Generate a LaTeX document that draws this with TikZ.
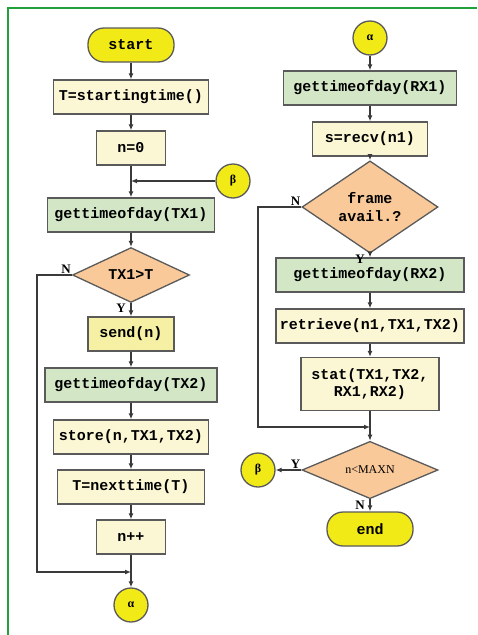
\documentclass[tikz,border=0pt]{standalone}
\usepackage{fontspec}
\setmainfont{Liberation Serif}
\setmonofont{Liberation Mono}
\usetikzlibrary{shapes.geometric,arrows.meta}
\definecolor{frameg}{HTML}{22A03C}
\definecolor{termfill}{HTML}{F2EA17}
\definecolor{creamfill}{HTML}{FBF7D4}
\definecolor{sendfill}{HTML}{F5F0A4}
\definecolor{greenfill}{HTML}{D3E7C7}
\definecolor{orangefill}{HTML}{F9C99A}
\definecolor{boxline}{HTML}{5A5A5A}
\definecolor{flowline}{HTML}{3A3A3A}
\begin{document}
\begin{tikzpicture}[x=1pt,y=-1pt]
        \tikzstyle{box}=[rectangle,draw=boxline,line width=1.3pt,minimum height=34pt,inner sep=3pt,align=center,font=\ttfamily\bfseries\fontsize{15}{18}\selectfont]
        \tikzstyle{plain box}=[box,fill=creamfill]
        \tikzstyle{time box}=[box,fill=greenfill]
        \tikzstyle{terminal}=[box,fill=termfill,rounded corners=16pt,minimum width=86pt]
        \tikzstyle{decision}=[diamond,draw=boxline,line width=1.3pt,fill=orangefill,inner sep=0pt,align=center,font=\ttfamily\bfseries\fontsize{15}{18}\selectfont]
        \tikzstyle{connector}=[circle,draw=boxline,line width=1.3pt,fill=termfill,minimum size=34pt,inner sep=0pt,font=\bfseries\fontsize{12}{14}\selectfont]
        \tikzstyle{yn}=[inner sep=1pt,font=\bfseries\fontsize{13}{15}\selectfont]
        \tikzstyle{flow}=[draw=flowline,line width=1.2pt,-{Latex[length=6pt,width=5pt]}]

        \useasboundingbox (0,0) rectangle (477,635);
        \draw[frameg,line width=2pt] (477,8) -- (8,8) -- (8,635);

        % Transmitter side
        \node[terminal](start) at (131,45) {start};
        \node[plain box,minimum width=155pt](tinit) at (131,97) {T=startingtime()};
        \node[plain box,minimum width=69pt](nzero) at (131,148) {n=0};
        \node[connector](betaL) at (233,181) {β};
        \node[time box,minimum width=167pt](gettx1) at (131,215) {gettimeofday(TX1)};
        \node[decision,minimum width=117pt,minimum height=50pt](tx1gt) at (131,275) {TX1>T};
        \node[box,fill=sendfill,minimum width=86pt](sendn) at (131,334) {send(n)};
        \node[time box,minimum width=172pt](gettx2) at (131,385) {gettimeofday(TX2)};
        \node[plain box,minimum width=155pt](store) at (131,437) {store(n,TX1,TX2)};
        \node[plain box,minimum width=147pt](nexttime) at (131,487) {T=nexttime(T)};
        \node[plain box,minimum width=69pt](ninc) at (131,537) {n++};
        \node[connector](alphaL) at (131,605) {α};

        % Receiver side
        \node[connector](alphaR) at (370,38) {α};
        \node[time box,minimum width=173pt](getrx1) at (370,88) {gettimeofday(RX1)};
        \node[plain box,minimum width=115pt](recv) at (370,139) {s=recv(n1)};
        \node[decision,minimum width=136pt,minimum height=67pt](frame) at (370,207) {frame\\avail.?};
        \node[time box,minimum width=188pt](getrx2) at (370,275) {gettimeofday(RX2)};
        \node[plain box,minimum width=188pt](retrieve) at (370,326) {retrieve(n1,TX1,TX2)};
        \node[plain box,minimum width=138pt,minimum height=53pt,font=\ttfamily\bfseries\fontsize{15}{17}\selectfont](stat) at (370,384) {stat(TX1,TX2,\\RX1,RX2)};
        \node[decision,minimum width=136pt,minimum height=50pt,font=\fontsize{12}{14}\selectfont](nmax) at (370,470) {n<MAXN};
        \node[connector](betaR) at (258,470) {β};
        \node[terminal](endn) at (370,529) {end};

        % Junction points
        \coordinate (jB) at (131,181);
        \coordinate (lpL) at (37,572);
        \coordinate (jA) at (131,572);
        \coordinate (lpR) at (258,427);
        \coordinate (jC) at (370,427);

        % Connectors, left column
        \draw[flow] (start) -- (tinit);
        \draw[flow] (tinit) -- (nzero);
        \draw[flow] (nzero) -- (gettx1);
        \draw[flow] (betaL) -- (jB);
        \draw[flow] (gettx1) -- (tx1gt);
        \draw[flow] (tx1gt) -- (sendn);
        \draw[flow] (sendn) -- (gettx2);
        \draw[flow] (gettx2) -- (store);
        \draw[flow] (store) -- (nexttime);
        \draw[flow] (nexttime) -- (ninc);
        \draw[flow] (ninc) -- (alphaL);
        \draw[flow] (tx1gt.west) -| (lpL) -- (jA);

        % Connectors, right column
        \draw[flow] (alphaR) -- (getrx1);
        \draw[flow] (getrx1) -- (recv);
        \draw[flow] (recv) -- (frame);
        \draw[flow] (frame) -- (getrx2);
        \draw[flow] (getrx2) -- (retrieve);
        \draw[flow] (retrieve) -- (stat);
        \draw[flow] (stat) -- (nmax);
        \draw[flow] (frame.west) -| (lpR) -- (jC);
        \draw[flow] (nmax) -- (betaR);
        \draw[flow] (nmax) -- (endn);

        % Branch labels
        \node[yn,anchor=south east](nA) at (tx1gt.west) {N};
        \node[yn,anchor=north east](yA) at ([xshift=-4pt]tx1gt.south) {Y};
        \node[yn,anchor=south east](nB) at (frame.west) {N};
        \node[yn,anchor=north east](yB) at ([xshift=-4pt]frame.south) {Y};
        \node[yn,anchor=south east](yC) at (nmax.west) {Y};
        \node[yn,anchor=north east](nC) at ([xshift=-4pt]nmax.south) {N};
\end{tikzpicture}
\end{document}
